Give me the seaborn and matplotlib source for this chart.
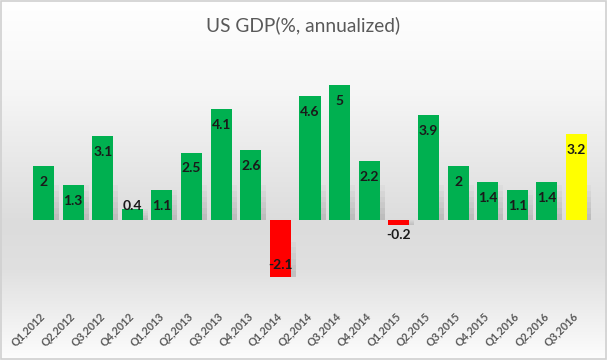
import numpy as np
import matplotlib
matplotlib.use("Agg")
import matplotlib.pyplot as plt
import matplotlib.transforms as mtransforms
import seaborn as sns
from matplotlib.colors import LinearSegmentedColormap

# data
quarters = ['Q1,2012', 'Q2,2012', 'Q3,2012', 'Q4,2012',
            'Q1,2013', 'Q2,2013', 'Q3,2013', 'Q4,2013',
            'Q1,2014', 'Q2,2014', 'Q3,2014', 'Q4,2014',
            'Q1,2015', 'Q2,2015', 'Q3,2015', 'Q4,2015',
            'Q1,2016', 'Q2,2016', 'Q3,2016']
gdp = [2, 1.3, 3.1, 0.4,
       1.1, 2.5, 4.1, 2.6,
       -2.1, 4.6, 5, 2.2,
       -0.2, 3.9, 2, 1.4,
       1.1, 1.4, 3.2]

sns.set_theme(style="white")
plt.rcParams['font.family'] = ['Lato', 'DejaVu Sans']

# green for growth, red for contraction, yellow for the latest quarter
colors = ['#00B050' if v >= 0 else '#FF0000' for v in gdp]
colors[-1] = '#FFFF00'

W, H, DPI = 607, 360, 100
fig = plt.figure(figsize=(W / DPI, H / DPI), dpi=DPI)

# background gradient (Excel style)
bg = fig.add_axes([0, 0, 1, 1], zorder=0)
grad = LinearSegmentedColormap.from_list(
    'bg', [(0.0, '#ffffff'), (0.25, '#f6f6f6'), (0.62, '#dcdcdc'),
           (0.75, '#e0e0e0'), (1.0, '#fdfdfd')])
bg.imshow(np.linspace(0, 1, 256).reshape(-1, 1), aspect='auto', cmap=grad,
          extent=[0, 1, 0, 1], origin='upper')
bg.set_xlim(0, 1)
bg.set_ylim(0, 1)
bg.axis('off')
bg.add_patch(plt.Rectangle((0.001, 0.002), 0.997, 0.995, fill=False,
                           edgecolor='#d0d0d0', linewidth=1.2))

# main axes: zero line at y=220px, 27px per unit
px_per_unit = 27
zero_y = 220
ymax, ymin = 5.9, -2.6
top_px = zero_y - ymax * px_per_unit
bot_px = zero_y - ymin * px_per_unit
left_px, right_px = 28.7, 591.3
ax = fig.add_axes([left_px / W, 1 - bot_px / H,
                   (right_px - left_px) / W, (bot_px - top_px) / H], zorder=1)
ax.patch.set_alpha(0)

bar_w = 0.71
sns.barplot(x=quarters, y=gdp, hue=quarters, palette=colors, legend=False,
            width=bar_w, saturation=1, linewidth=0, edgecolor='none',
            ax=ax, zorder=3)
ax.set_ylim(ymin, ymax)
ax.set_xlim(-0.5, len(quarters) - 0.5)
sns.despine(ax=ax, left=True, bottom=True)
ax.set_yticks([])
ax.set_xlabel('')
ax.set_ylabel('')
ax.tick_params(axis='x', length=0, pad=17)
for lbl in ax.get_xticklabels():
    lbl.set_rotation(45)
    lbl.set_ha('right')
    lbl.set_va('center')
    lbl.set_rotation_mode('anchor')
    lbl.set_fontsize(7.8)
    lbl.set_fontweight('bold')
    lbl.set_color('#595959')

# soft shadow near the base of each bar, shifted to the right
shift = mtransforms.offset_copy(ax.transData, fig=fig, x=5 * 72 / DPI, y=0,
                                units='points')
for i, v in enumerate(gdp):
    reach = min(abs(v), 1.3)
    for k in range(1, 7):
        hk = reach * k / 6
        y0 = 0 if v >= 0 else v
        ax.add_patch(plt.Rectangle((i - bar_w / 2, y0), bar_w, hk,
                                   transform=shift, facecolor='#000000',
                                   alpha=0.025, linewidth=0, zorder=2))

# data labels: inside end, outside when the bar is too short
pt = 72 / DPI
for i, v in enumerate(gdp):
    h = abs(v) * px_per_unit
    if v >= 0:
        off = -16 if h > 20 else 3
    else:
        off = 12 if h > 20 else -10
    ax.annotate(f'{v:g}', (i, v), xytext=(0, off * pt), textcoords='offset points',
                ha='center', va='center', fontsize=10, fontweight='bold',
                color='#1a1a1a', zorder=5)

fig.text(0.5, 1 - 25 / H, 'US GDP(%, annualized)', ha='center', va='center',
         fontsize=13.8, color='#595959')

fig.savefig('out.png', dpi=DPI)
